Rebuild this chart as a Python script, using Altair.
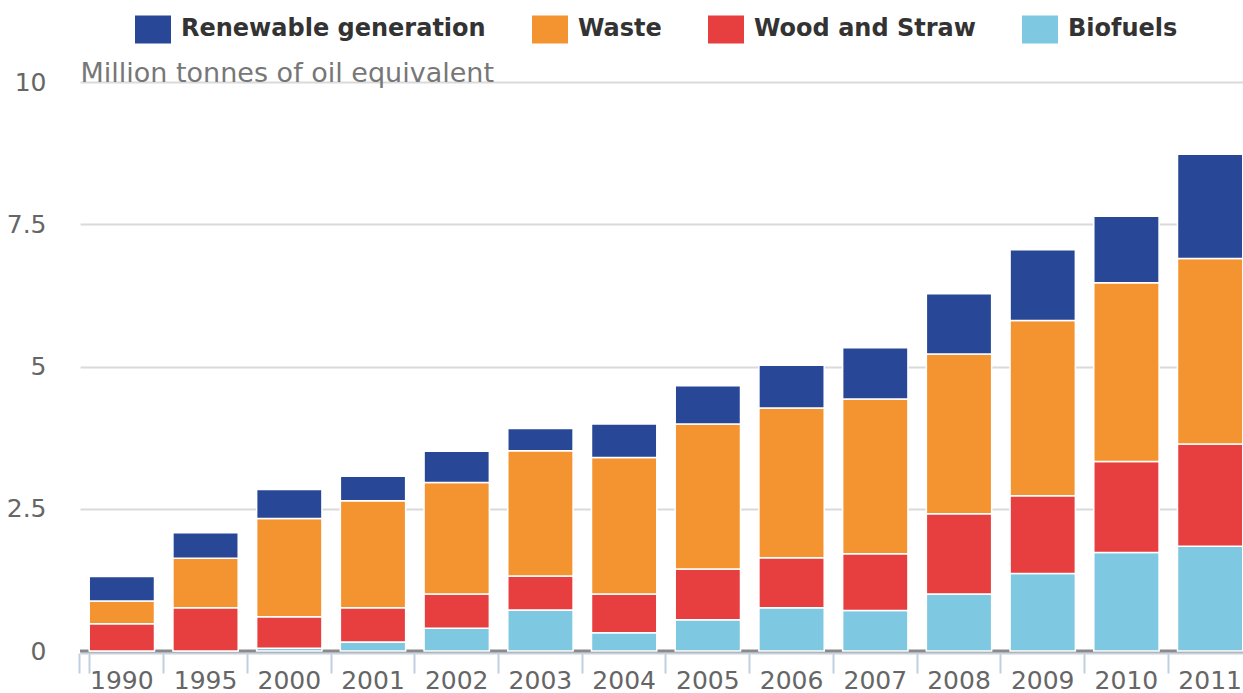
import altair as alt
import pandas as pd

years = ["1990", "1995", "2000", "2001", "2002", "2003", "2004",
         "2005", "2006", "2007", "2008", "2009", "2010", "2011"]
biofuels = [0.00, 0.00, 0.05, 0.16, 0.40, 0.72, 0.32, 0.55, 0.76, 0.71, 1.00, 1.36, 1.73, 1.84]
wood_straw = [0.48, 0.76, 0.55, 0.60, 0.60, 0.60, 0.68, 0.89, 0.88, 1.00, 1.41, 1.37, 1.60, 1.80]
waste = [0.40, 0.87, 1.73, 1.88, 1.96, 2.20, 2.40, 2.55, 2.63, 2.72, 2.81, 3.08, 3.14, 3.26]
renewable = [0.43, 0.45, 0.51, 0.43, 0.55, 0.39, 0.59, 0.67, 0.75, 0.90, 1.06, 1.24, 1.17, 1.83]

legend_order = ["Renewable generation", "Waste", "Wood and Straw", "Biofuels"]
colors = ["#284797", "#f49430", "#e73f3f", "#7ec8e1"]
y_ticks = [0, 2.5, 5, 7.5, 10]

series = [("Biofuels", biofuels), ("Wood and Straw", wood_straw),
          ("Waste", waste), ("Renewable generation", renewable)]
rows = []
for k, (name, vals) in enumerate(series):
    for yr, v in zip(years, vals):
        rows.append({"year": yr, "source": name, "value": v, "ord": k})
df = pd.DataFrame(rows)

font = "DejaVu Sans"

y_axis = alt.Axis(values=y_ticks, labelExpr="format(datum.value, '~g')",
                  labelFontSize=25, labelColor="#666666", labelFont=font, grid=True,
                  ticks=False, tickSize=0, domain=False, labelPadding=34,
                  gridColor="#dadada", gridWidth=2,
                  title="Million tonnes of oil equivalent",
                  titleFont=font, titleFontSize=27, titleFontWeight="normal",
                  titleColor="#777777", titleAngle=0, titleAlign="left",
                  titleBaseline="alphabetic", titleX=0, titleY=-1)

zero = alt.Chart(pd.DataFrame({"z": [0]})).mark_rule(
    color="#8a8a8a", strokeWidth=3
).encode(y=alt.Y(datum=0, axis=y_axis))

bars = alt.Chart(df).mark_bar(stroke="white", strokeWidth=1.5).encode(
    x=alt.X("year:O", sort=years, title=None,
            scale=alt.Scale(paddingInner=0.22, paddingOuter=0.11),
            axis=alt.Axis(labelAngle=0, labelFontSize=25, labelColor="#666666",
                          labelFont=font, labelPadding=-5,
                          domainColor="#c8d2df", domainWidth=2,
                          tickColor="#c0cfe0", tickWidth=2, tickSize=20,
                          bandPosition=-0.1411, tickExtra=True,
                          offset=2, grid=False)),
    y=alt.Y("value:Q", stack="zero",
            scale=alt.Scale(domain=[0, 10], nice=False),
            axis=y_axis),
    color=alt.Color("source:N",
                    scale=alt.Scale(domain=legend_order, range=colors),
                    legend=alt.Legend(title=None, orient="none", direction="horizontal",
                                      legendX=55, legendY=-71,
                                      symbolType="M-1,-0.78H1V0.78H-1Z",
                                      symbolSize=1296, symbolStrokeWidth=0,
                                      symbolOpacity=1,
                                      labelFont=font, labelFontSize=24,
                                      labelFontWeight="bold", labelColor="#333333",
                                      labelLimit=500, labelOffset=10,
                                      columnPadding=46, padding=0)),
    order=alt.Order("ord:Q", sort="ascending"),
)

chart = alt.layer(zero, bars).properties(
    width=1172, height=569,
    autosize=alt.AutoSizeParams(type="none"),
    padding={"left": 80, "top": 82, "right": -9, "bottom": 42},
).configure(font=font).configure_view(stroke="transparent", strokeWidth=0)

chart.save("out.html", embed_options={"renderer": "svg", "actions": False})
